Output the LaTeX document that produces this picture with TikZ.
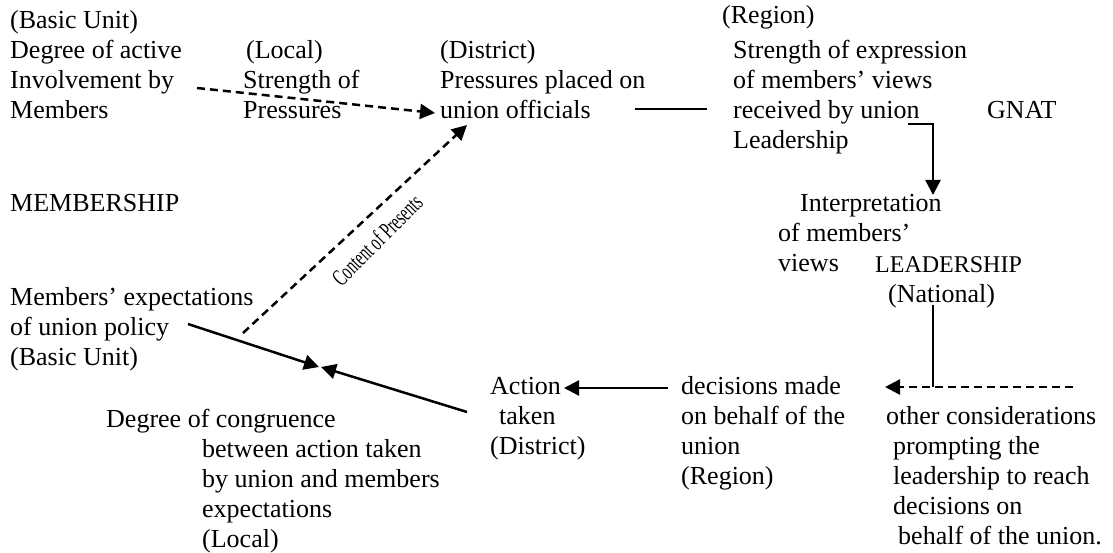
\documentclass[tikz,border=0pt]{standalone}
\usepackage{fontspec}
\setmainfont{Liberation Serif}
\usetikzlibrary{arrows.meta}
\begin{document}
\begin{tikzpicture}[x=1pt,y=-1pt,
  txt/.style={inner sep=0pt, anchor=base west, align=left, font=\fontsize{26pt}{30pt}\selectfont},
  conn/.style={line width=2.5pt},
  dsh/.style={conn, dash pattern=on 8pt off 5pt},
  tip/.style={-{Triangle[length=15pt,width=15pt]}}
]
\useasboundingbox (0,0) rectangle (1113,553);
% text nodes (placed by the baseline of their last line)
\node[txt] (basic) at (10,119) {(Basic Unit)\\Degree of active\\Involvement by\\Members};
\node[txt] (local) at (243,119) {\hspace*{3pt}(Local)\\Strength of\\Pressures};
\node[txt] (district) at (440,119) {(District)\\Pressures placed on\\union officials};
\node[txt] (regionlbl) at (722,24) {(Region)};
\node[txt] (strength) at (733,149) {Strength of expression\\of members’ views\\received by union\\Leadership};
\node[txt] (gnat) at (987,119) {GNAT};
\node[txt] (membership) at (10,212) {MEMBERSHIP};
\node[txt] (interp) at (778,272) {\hspace*{22pt}Interpretation\\of members’\\views};
\node[txt] (leader) at (875,302) {{\fontsize{24pt}{30pt}\selectfont LEADERSHIP}\\\hspace*{13pt}(National)};
\node[txt] (expect) at (10,365) {Members’ expectations\\of union policy\\(Basic Unit)};
\node[txt] (congr) at (106,547) {Degree of congruence\\\hspace*{96pt}between action taken\\\hspace*{96pt}by union and members\\\hspace*{96pt}expectations\\\hspace*{96pt}(Local)};
\node[txt] (action) at (490,454) {Action\\\hspace*{9pt}taken\\(District)};
\node[txt] (decis) at (681,484) {decisions made\\on behalf of the\\union\\(Region)};
\node[txt] (other) at (886,544) {other considerations\\\hspace*{7pt}prompting the\\\hspace*{7pt}leadership to reach\\\hspace*{7pt}decisions on\\\hspace*{12pt}behalf of the union.};
% connector end points
\coordinate (invS) at (197,88);
\coordinate (offT) at (435,113);
\coordinate (onS) at (635,109);
\coordinate (onE) at (707,109);
\coordinate (recS) at (908,124);
\coordinate (recC) at (933,124);
\coordinate (intT) at (933,195);
\coordinate (natS) at (933,305);
\coordinate (natC) at (933,387);
\coordinate (othS) at (1073,387);
\coordinate (decT) at (885,387);
\coordinate (decS) at (668,388);
\coordinate (actT) at (564,388);
\coordinate (expS) at (188,324);
\coordinate (congT1) at (319,367);
\coordinate (actS) at (467,412);
\coordinate (congT2) at (321,367);
\coordinate (contS) at (243,333);
\coordinate (contT) at (467,125);
% connectors
\draw[dsh,tip] (invS) -- (offT);
\draw[conn] (onS) -- (onE);
\draw[conn,tip] (recS) -- (recC) -- (intT);
\draw[conn] (natS) -- (natC);
\draw[dsh,tip] (othS) -- (decT);
\draw[conn,tip] (decS) -- (actT);
\draw[conn,tip] (expS) -- (congT1);
\draw[conn,tip] (actS) -- (congT2);
\draw[dsh,tip] (contS) -- (contT);
\node[rotate=45, inner sep=0pt, font=\fontsize{24pt}{28pt}\selectfont] (cop) at (377,240) {\scalebox{0.62}[1]{Content of Presents}};
\end{tikzpicture}
\end{document}
